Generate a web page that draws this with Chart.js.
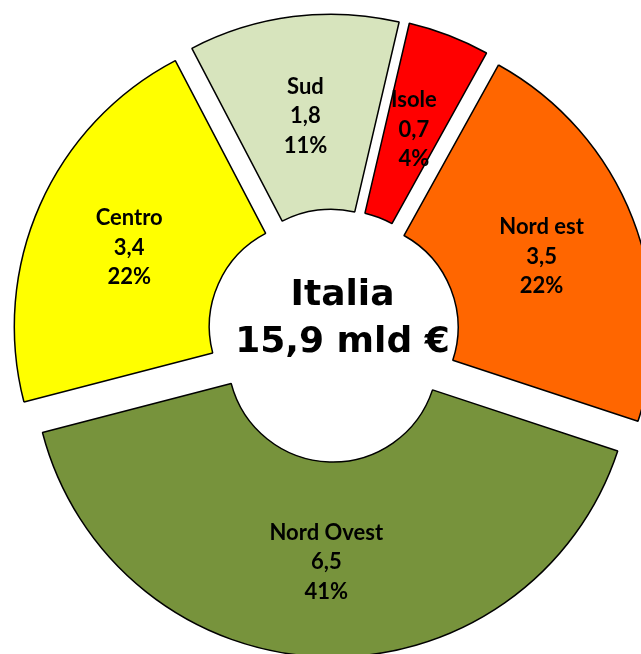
<!DOCTYPE html>
<html lang="it">
<head>
<meta charset="utf-8">
<title>Italia 15,9 mld €</title>
<script src="https://cdn.jsdelivr.net/npm/chart.js@4.4.1/dist/chart.umd.min.js"></script>
<style>
  html, body { margin: 0; padding: 0; background: #fff; }
  #wrap { position: relative; width: 641px; height: 654px; overflow: hidden; }
</style>
</head>
<body>
<div id="wrap"><canvas id="ripartizioneChart"></canvas></div>
<script>
// Ripartizione per area (mld €), in senso orario a partire da Sud
const aree = ['Sud', 'Isole', 'Nord est', 'Nord Ovest', 'Centro'];
const valori = [1.8, 0.7, 3.5, 6.5, 3.4];
const quote = [11, 4, 22, 41, 22];   // % come riportate in etichetta
const colori = ['#D7E4BD', '#FF0000', '#FF6600', '#77933C', '#FFFF00'];
const titoloCentro = ['Italia', '15,9 mld €'];

const formatta = v => v.toFixed(1).replace('.', ',');

/**
 * Sposta ogni fetta verso l'esterno lungo la sua bisettrice (torta "esplosa").
 * Non uso l'opzione offset di Chart.js perché allarga anche il raggio delle fette piccole.
 */
const fetteEsplose = {
    id: 'fetteEsplose',
    afterDatasetsUpdate(chart, args, opts) {
        const meta = chart.getDatasetMeta(0);
        meta.data.forEach((arc, i) => {
            const d = opts.distanza[i] || 0;
            const mid = (arc.startAngle + arc.endAngle) / 2;
            arc.x += Math.cos(mid) * d;
            arc.y += Math.sin(mid) * d;
        });
    }
};

/**
 * Etichette dentro le fette: nome, valore, percentuale
 */
const etichetteFette = {
    id: 'etichetteFette',
    afterDatasetsDraw(chart, args, opts) {
        const { ctx } = chart;
        const meta = chart.getDatasetMeta(0);
        ctx.save();
        ctx.font = opts.font;
        ctx.fillStyle = opts.color;
        ctx.textAlign = 'center';
        ctx.textBaseline = 'middle';
        meta.data.forEach((arc, i) => {
            const p = arc.getCenterPoint();
            const righe = [aree[i], formatta(valori[i]), quote[i] + '%'];
            righe.forEach((t, k) => ctx.fillText(t, p.x, p.y + opts.dy + (k - 1) * opts.interlinea));
        });
        ctx.restore();
    }
};

/**
 * Totale nel foro centrale
 */
const testoCentro = {
    id: 'testoCentro',
    afterDraw(chart, args, opts) {
        const { ctx, chartArea } = chart;
        const cx = (chartArea.left + chartArea.right) / 2 + opts.dx;
        const cy = (chartArea.top + chartArea.bottom) / 2;
        ctx.save();
        ctx.font = opts.font;
        ctx.fillStyle = opts.color;
        ctx.textAlign = 'center';
        ctx.textBaseline = 'alphabetic';
        ctx.fillText(titoloCentro[0], cx, cy - 30);
        ctx.fillText(titoloCentro[1], cx, cy + 17);
        ctx.restore();
    }
};

new Chart(document.getElementById('ripartizioneChart'), {
    type: 'doughnut',
    data: {
        labels: aree,
        datasets: [{
            data: valori,
            backgroundColor: colori,
            borderColor: '#000000',
            borderWidth: 1.5
        }]
    },
    options: {
        responsive: true,
        maintainAspectRatio: false,
        animation: false,
        events: [],
        rotation: -27.6,
        radius: 300,
        cutout: '35%',
        layout: { padding: { left: 26, top: 16, right: 0, bottom: 0 } },
        plugins: {
            legend: { display: false },
            tooltip: { enabled: false },
            fetteEsplose: { distanza: [21, 21, 21, 22, 21] },
            etichetteFette: { font: 'bold 22px Lato', color: '#000000', interlinea: 29.5, dy: 3 },
            testoCentro: { font: 'bold 36px "DejaVu Sans"', color: '#000000', dx: 9 }
        }
    },
    plugins: [fetteEsplose, etichetteFette, testoCentro]
});
</script>
</body>
</html>
